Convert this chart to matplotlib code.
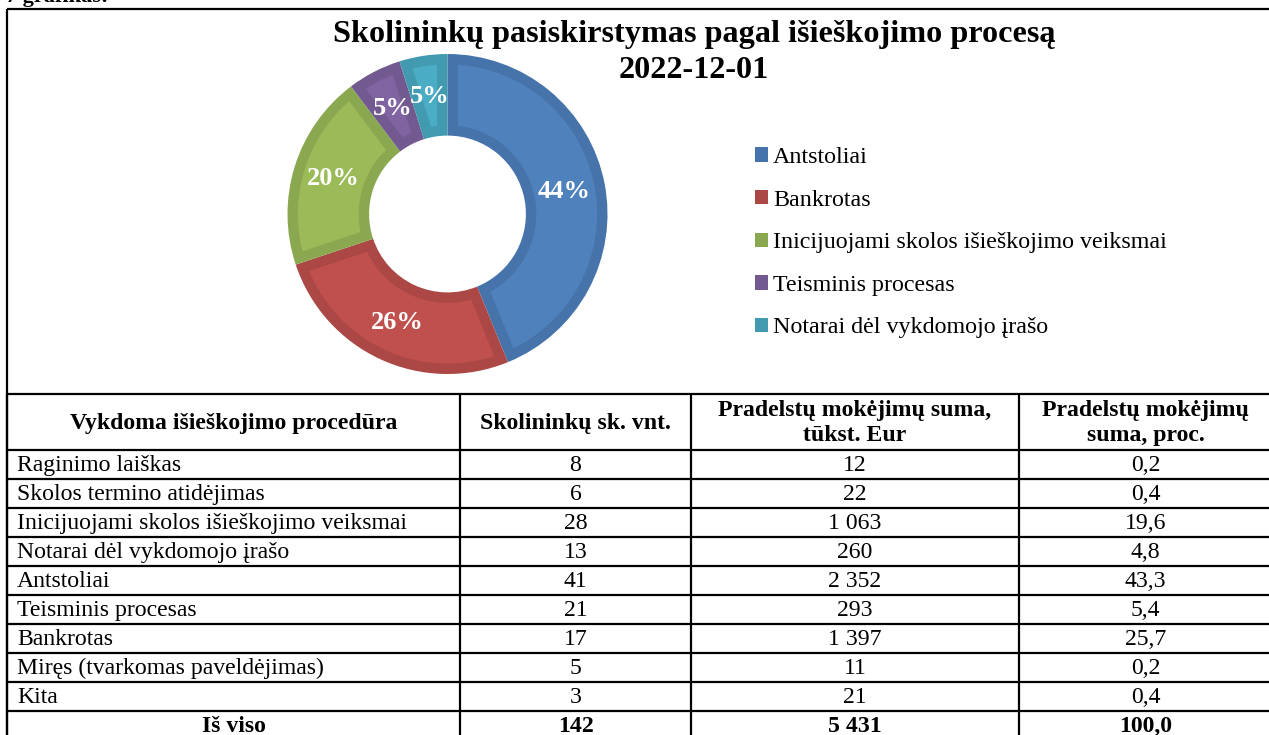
import matplotlib
matplotlib.use("Agg")
import matplotlib.pyplot as plt
import numpy as np
from matplotlib.patches import Patch, Polygon

plt.rcParams["font.family"] = ["Liberation Serif", "DejaVu Serif"]

# donut: debt split by recovery process (thousand EUR)
donut_labels = [
    "Antstoliai",
    "Bankrotas",
    "Inicijuojami skolos išieškojimo veiksmai",
    "Teisminis procesas",
    "Notarai dėl vykdomojo įrašo",
]
donut_values = [2352, 1397, 1063, 293, 260]
fill_colors = ["#4F81BD", "#C0504D", "#9BBB59", "#8064A2", "#4BACC6"]
edge_colors = ["#4674AA", "#AB4744", "#8AA84F", "#725A91", "#429AB1"]

# table below the chart
col_headers = [
    "Vykdoma išieškojimo procedūra",
    "Skolininkų sk. vnt.",
    "Pradelstų mokėjimų suma,\ntūkst. Eur",
    "Pradelstų mokėjimų\nsuma, proc.",
]
procedures = [
    "Raginimo laiškas",
    "Skolos termino atidėjimas",
    "Inicijuojami skolos išieškojimo veiksmai",
    "Notarai dėl vykdomojo įrašo",
    "Antstoliai",
    "Teisminis procesas",
    "Bankrotas",
    "Miręs (tvarkomas paveldėjimas)",
    "Kita",
]
debtors = [8, 6, 28, 13, 41, 21, 17, 5, 3]
amounts = [12, 22, 1063, 260, 2352, 293, 1397, 11, 21]
shares = [0.2, 0.4, 19.6, 4.8, 43.3, 5.4, 25.7, 0.2, 0.4]
total_label = "Iš viso"
total_debtors = 142
total_amount = 5431
total_share = 100.0


def fmt_int(v):
    return f"{v:,}".replace(",", " ")


def fmt_pct(v):
    return f"{v:.1f}".replace(".", ",")


def inset_sector(t1, t2, r_in, r_out, d, n=60):
    # ring sector from t1 down to t2 (degrees, clockwise), shrunk by d on every side
    ro, ri = r_out - d, r_in + d
    a1 = t1 - np.degrees(np.arcsin(d / ro))
    a2 = t2 + np.degrees(np.arcsin(d / ro))
    b1 = t1 - np.degrees(np.arcsin(d / ri))
    b2 = t2 + np.degrees(np.arcsin(d / ri))
    outer = np.radians(np.linspace(a1, a2, n))
    inner = np.radians(np.linspace(b2, b1, n))
    xs = np.concatenate([ro * np.cos(outer), ri * np.cos(inner)])
    ys = np.concatenate([ro * np.sin(outer), ri * np.sin(inner)])
    return np.column_stack([xs, ys])


W, H = 1269, 735
fig = plt.figure(figsize=(W / 100, H / 100), dpi=100)

page = fig.add_axes([0, 0, 1, 1])
page.set_xlim(0, W)
page.set_ylim(H, 0)
page.axis("off")

LW = 1.6
box_left, box_right, box_top = 7, 1272, 9
col_x = [box_left, 460, 691, 1019, box_right]
head_top, head_bot, row_h = 394, 450, 29

page.text(6, 2, "7 grafikas:", fontsize=16, fontweight="bold", va="baseline", ha="left")

# outer frame
page.hlines(box_top, box_left, box_right, color="black", lw=LW)
page.vlines(box_left, box_top, H + 5, color="black", lw=LW)

# table grid
n_rows = len(procedures) + 1
row_lines = [head_top, head_bot] + [head_bot + row_h * (i + 1) for i in range(n_rows)]
for y in row_lines:
    page.hlines(y, box_left, box_right, color="black", lw=LW)
for x in col_x:
    page.vlines(x, head_top, H + 5, color="black", lw=LW)

fs_tab = 17.1
centers = [(col_x[i] + col_x[i + 1]) / 2 for i in range(4)]
head_mid = (head_top + head_bot) / 2 + 1
for i, h in enumerate(col_headers):
    page.text(centers[i], head_mid, h, fontsize=fs_tab, fontweight="bold",
              ha="center", va="center", linespacing=1.2)

for r, name in enumerate(procedures):
    yc = head_bot + row_h * r + row_h / 2 + 1
    page.text(col_x[0] + 10, yc, name, fontsize=fs_tab, ha="left", va="center")
    page.text(centers[1], yc, str(debtors[r]), fontsize=fs_tab, ha="center", va="center")
    page.text(centers[2], yc, fmt_int(amounts[r]), fontsize=fs_tab, ha="center", va="center")
    page.text(centers[3], yc, fmt_pct(shares[r]), fontsize=fs_tab, ha="center", va="center")

yc = head_bot + row_h * len(procedures) + row_h / 2 + 1
total_cells = [total_label, str(total_debtors), fmt_int(total_amount), fmt_pct(total_share)]
for i, t in enumerate(total_cells):
    page.text(centers[i], yc, t, fontsize=fs_tab, fontweight="bold", ha="center", va="center")

# title
page.text(694, 34, "Skolininkų pasiskirstymas pagal išieškojimo procesą",
          fontsize=23.2, fontweight="bold", ha="center", va="center")
page.text(694, 70, "2022-12-01", fontsize=23.2, fontweight="bold", ha="center", va="center")

# donut: dark full ring, lighter inset on top
cx, cy, rad = 447.5, 214, 160
hole = 0.49
band = 0.065
ax = fig.add_axes([(cx - rad) / W, (H - cy - rad) / H, 2 * rad / W, 2 * rad / H])
wedges, _, autotexts = ax.pie(
    donut_values,
    colors=edge_colors,
    startangle=90,
    counterclock=False,
    autopct="%1.0f%%",
    pctdistance=0.745,
    wedgeprops=dict(width=1 - hole, linewidth=0),
)
for w, fc in zip(wedges, fill_colors):
    ax.add_patch(Polygon(inset_sector(w.theta2, w.theta1, hole, 1.0, band),
                         closed=True, facecolor=fc, edgecolor="none", zorder=2))
for t in autotexts:
    t.set_color("white")
    t.set_fontweight("bold")
    t.set_fontsize(19)
    t.set_zorder(5)
ax.set_xlim(-1, 1)
ax.set_ylim(-1, 1)

handles = [Patch(facecolor=c, edgecolor="none") for c in edge_colors]
fig.legend(
    handles, donut_labels,
    loc="upper left",
    bbox_to_anchor=(755 / W, 1 - 147 / H),
    frameon=False,
    fontsize=17.3,
    handlelength=0.55,
    handleheight=0.55,
    handletextpad=0.2,
    labelspacing=0.9,
    borderaxespad=0,
    borderpad=0,
)

fig.savefig("out.png", dpi=100)
